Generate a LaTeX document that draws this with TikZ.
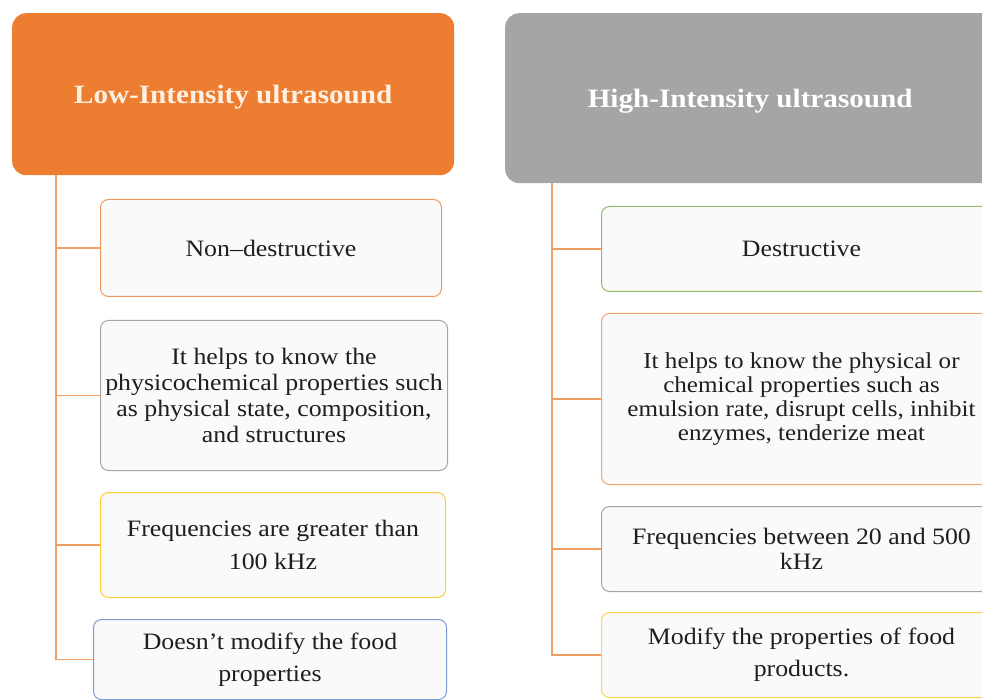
\documentclass[tikz,border=0pt]{standalone}
\usepackage{fontspec}
\setmainfont[FakeStretch=1.1]{Liberation Serif}
\definecolor{loworange}{HTML}{ED7D31}
\definecolor{highgray}{HTML}{A5A5A5}
\definecolor{boxgold}{HTML}{FFC000}
\definecolor{boxblue}{HTML}{4472C4}
\definecolor{boxgreen}{HTML}{70AD47}
\definecolor{boxfill}{HTML}{FAFAFB}
\definecolor{headtext}{HTML}{FFF1E2}
\usetikzlibrary{positioning}

\begin{document}
\begin{tikzpicture}[x=1pt,y=-1pt,
  header/.style={rounded corners=14pt,anchor=north west,inner sep=0pt,text depth=0pt,
    font=\fontsize{26.5}{30}\selectfont\bfseries},
  item/.style={rounded corners=8pt,anchor=north west,fill=boxfill,line width=1pt,
    align=center,inner sep=0pt,text=black!88,font=\fontsize{23.5}{26}\selectfont},
  branch/.style={loworange!75,line width=1.2pt}]
  \clip (0,0) rectangle (982,700);
  % Headers
  \node[header,fill=loworange,text=headtext,minimum width=442pt,minimum height=162pt]
    (lowhead) at (12,13) {Low-Intensity ultrasound};
  \node[header,fill=highgray,text=white!95,minimum width=490pt,minimum height=170pt]
    (highhead) at (505,13) {High-Intensity ultrasound};
  % Low-intensity branch
  \node[item,draw=loworange!80,minimum width=341pt,minimum height=97pt]
    (lowa) at (100,199) {Non–destructive};
  \node[item,draw=highgray,minimum width=347pt,minimum height=150pt]
    (lowb) at (100,320) {It helps to know the\\physicochemical properties such\\as physical state, composition,\\and structures};
  \node[item,draw=boxgold!80,minimum width=345pt,minimum height=105pt,
    font=\fontsize{23.5}{33}\selectfont]
    (lowc) at (100,492) {Frequencies are greater than\\100 kHz};
  \node[item,draw=boxblue!70,minimum width=353pt,minimum height=80pt,
    font=\fontsize{23.5}{32}\selectfont]
    (lowd) at (93,619) {Doesn’t modify the food\\properties};
  % High-intensity branch
  \node[item,draw=boxgreen!80,minimum width=400pt,minimum height=85pt]
    (higha) at (601,206) {Destructive};
  \node[item,draw=loworange!70,minimum width=400pt,minimum height=171pt,
    font=\fontsize{22.8}{24}\selectfont]
    (highb) at (601,313) {It helps to know the physical or\\chemical properties such as\\emulsion rate, disrupt cells, inhibit\\enzymes, tenderize meat};
  \node[item,draw=highgray,minimum width=400pt,minimum height=85pt,
    font=\fontsize{23.5}{25}\selectfont]
    (highc) at (601,506) {Frequencies between 20 and 500\\kHz};
  \node[item,draw=boxgold!70,minimum width=400pt,minimum height=85pt,
    font=\fontsize{23.5}{32}\selectfont]
    (highd) at (601,612) {Modify the properties of food\\products.};
  % Tree connectors
  \coordinate (lowroot) at ([xshift=44pt]lowhead.south west);
  \coordinate (highroot) at ([xshift=47pt]highhead.south west);
  \foreach \b in {lowa,lowb,lowc,lowd}
    \draw[branch] (lowroot) |- (\b.west);
  \foreach \b in {higha,highb,highc,highd}
    \draw[branch] (highroot) |- (\b.west);
\end{tikzpicture}
\end{document}
